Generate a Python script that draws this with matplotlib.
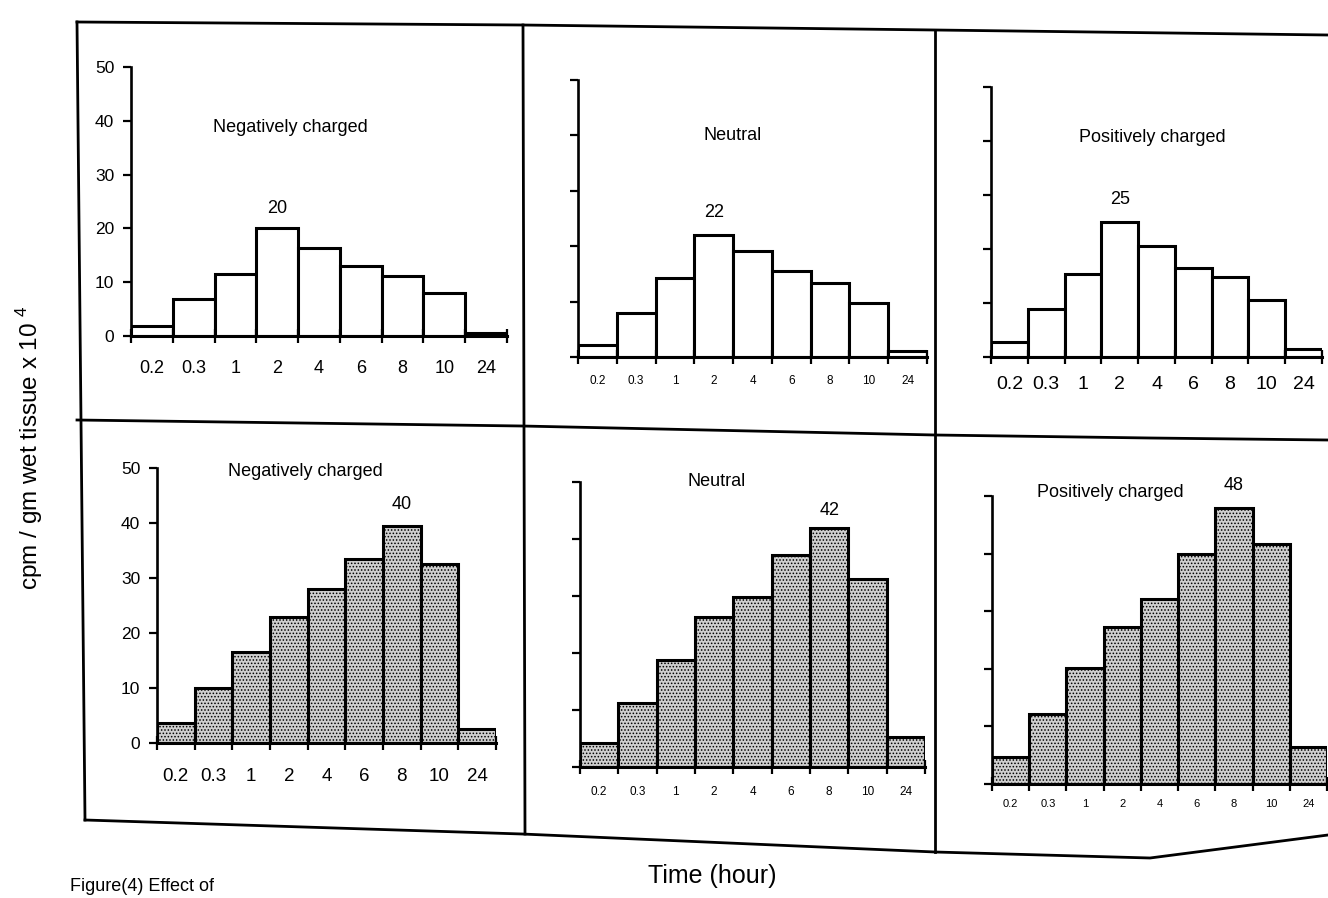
import numpy as np
import matplotlib.pyplot as plt
from matplotlib.lines import Line2D

plt.rcParams['font.family'] = ['Liberation Sans', 'DejaVu Sans']
plt.rcParams['mathtext.fontset'] = 'custom'
plt.rcParams['mathtext.rm'] = 'Liberation Sans'
plt.rcParams['hatch.color'] = '#3a3a3a'
plt.rcParams['hatch.linewidth'] = 0.7

W, H = 1328, 898

times = ['0.2', '0.3', '1', '2', '4', '6', '8', '10', '24']
yticks = [0, 10, 20, 30, 40, 50]

# 2 hour series (top row) and later series (bottom row)
neg_top = [1.8, 6.8, 11.5, 20, 16.3, 13, 11.2, 8, 0.6]
neu_top = [2.1, 8.0, 14.2, 22, 19.1, 15.5, 13.3, 9.7, 1.0]
pos_top = [2.7, 8.8, 15.4, 25, 20.5, 16.4, 14.9, 10.6, 1.4]
neg_bot = [3.7, 10, 16.5, 23, 28, 33.5, 39.5, 32.5, 2.5]
neu_bot = [4.2, 11.2, 18.7, 26.3, 29.9, 37.2, 42, 32.9, 5.2]
pos_bot = [4.7, 12.1, 20.1, 27.3, 32.1, 40, 48, 41.7, 6.5]

titles = ['Negatively charged', 'Neutral', 'Positively charged']
peak_labels = ['20', '22', '25', '40', '42', '48']

# panel geometry in pixels: axis x, top(50), right end, baseline(0)
panels = [
    (131, 67, 507, 336), (578, 80, 927, 357), (991, 87, 1322, 357),
    (157, 468, 496, 743), (580, 482, 925, 767), (992, 496, 1327, 784),
]
series = [neg_top, neu_top, pos_top, neg_bot, neu_bot, pos_bot]
title_pos = [(290, 127), (733, 135), (1152, 138), (305, 472), (717, 482), (1110, 492)]
tick_fs = [13, 8.5, 14, 13.5, 8.5, 8]
tick_pad = [17, 13, 14, 18, 14, 11]
peak_idx = [3, 3, 3, 6, 6, 6]
peak_off = [8, 10, 10, 9, 6, 10]

fig = plt.figure(figsize=(W / 100, H / 100), dpi=100)

for i, (x0, yt, x1, yb) in enumerate(panels):
    ax = fig.add_axes([x0 / W, 1 - yb / H, (x1 - x0) / W, (yb - yt) / H])
    vals = series[i]
    xs = np.arange(len(times))
    if i < 3:
        ax.bar(xs, vals, width=1, align='edge', facecolor='white',
               edgecolor='black', linewidth=2.2)
    else:
        ax.bar(xs, vals, width=1, align='edge', facecolor='#cfcfcf',
               edgecolor='black', linewidth=2.2, hatch='.....')
    ax.set_xlim(0, len(times))
    ax.set_ylim(0, 50)
    for s in ['top', 'right']:
        ax.spines[s].set_visible(False)
    ax.spines['left'].set_linewidth(1.9)
    ax.spines['bottom'].set_linewidth(2.2)
    ax.patch.set_alpha(0)
    ax.set_yticks(yticks)
    if i in (0, 3):
        ax.set_yticklabels([str(v) for v in yticks], fontsize=12.5)
    else:
        ax.set_yticklabels([])
    ax.tick_params(axis='y', direction='out', length=6, width=1.6, pad=6)
    ax.set_xticks(np.arange(len(times) + 1))
    ax.set_xticklabels([])
    ax.tick_params(axis='x', which='major', direction='inout', length=10, width=1.6)
    ax.set_xticks(xs + 0.5, minor=True)
    ax.set_xticklabels(times, minor=True, fontsize=tick_fs[i])
    ax.tick_params(axis='x', which='minor', length=0, pad=tick_pad[i])
    k = peak_idx[i]
    ax.annotate(peak_labels[i], (k + 0.5, vals[k]), xytext=(0, peak_off[i]),
                textcoords='offset points', ha='center', va='bottom',
                fontsize=13, annotation_clip=False)
    tx, ty = title_pos[i]
    fig.text(tx / W, 1 - ty / H, titles[i % 3], ha='center', va='center', fontsize=13)

# frame of the scanned figure
frame = [
    [(77, 22), (522, 25), (935, 30), (1328, 35)],
    [(77, 420), (522, 426), (935, 435), (1150, 438), (1328, 440)],
    [(85, 820), (522, 834), (935, 852), (1150, 858), (1328, 835)],
    [(77, 22), (85, 820)],
    [(523, 25), (525, 834)],
    [(935, 30), (935, 852)],
]
for pts in frame:
    px = [p[0] / W for p in pts]
    py = [1 - p[1] / H for p in pts]
    fig.add_artist(Line2D(px, py, color='black', linewidth=2.0))

fig.text(30 / W, 1 - 448 / H, 'cpm / gm wet tissue x 10 $^{4}$', rotation=90,
         ha='center', va='center', fontsize=17.5)
fig.text(712 / W, 1 - 876 / H, 'Time (hour)', ha='center', va='center', fontsize=18)
fig.text(70 / W, 1 - 878 / H, 'Figure(4) Effect of', ha='left', va='top', fontsize=13)

fig.savefig('out.png', dpi=100)
